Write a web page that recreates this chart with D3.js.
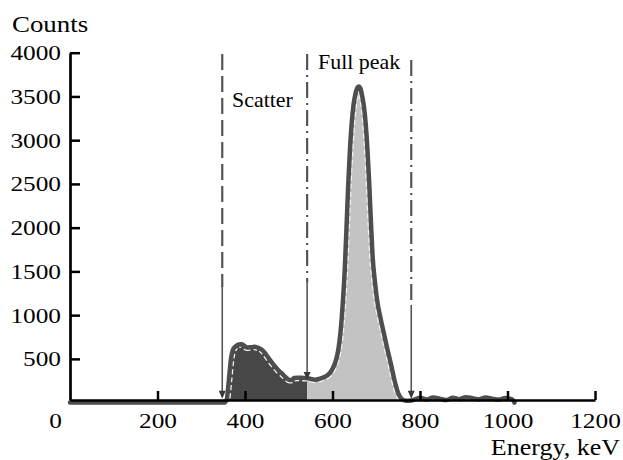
<!doctype html>
<html>
<head>
<meta charset="utf-8">
<title>Energy spectrum</title>
<script src="https://cdn.jsdelivr.net/npm/d3@7"></script>
<style>
  html, body { margin:0; background:#fff; }
  svg { display:block; font-family:'Liberation Serif','Times New Roman',serif; }
</style>
</head>
<body>
<svg id="chart" width="623" height="460"></svg>
<script>
  // spectrum (keV, counts)
  var energy = [0, 352, 358, 363, 368, 373, 379, 386, 392, 398, 405, 413, 421, 429, 437, 445,
    453, 462, 470, 478, 486, 494, 502, 508, 512, 520, 530, 543, 552, 560, 570, 580, 588, 595,
    601, 607, 612, 616, 620, 624, 628, 632, 636, 640, 644, 648, 652, 656, 660, 664, 668, 672,
    676, 680, 684, 688, 692, 697, 702, 710, 718, 726, 734, 742, 750, 756, 762, 770, 780,
    790, 800, 815, 830, 845, 860, 875, 890, 905, 920, 935, 950, 965, 980, 995, 1010, 1016]
  var counts = [0, 0, 30, 250, 500, 610, 645, 665, 668, 650, 630, 632, 638, 630, 610, 570,
    515, 455, 405, 360, 325, 285, 258, 262, 282, 284, 283, 280, 268, 262, 272, 290, 310, 345,
    395, 470, 570, 700, 900, 1174, 1520, 2000, 2500, 2900, 3200, 3400, 3520, 3590, 3615, 3590, 3500, 3380,
    3180, 2880, 2500, 2050, 1650, 1380, 1170, 960, 780, 600, 430, 250, 110, 55, 30, 22, 25,
    40, 55, 35, 60, 45, 30, 55, 40, 62, 50, 38, 58, 45, 35, 52, 40, 0]

  var xTicks = [200, 400, 600, 800, 1000, 1200]
  var yTicks = [500, 1000, 1500, 2000, 2500, 3000, 3500, 4000]

  // windows: scatter and full peak
  var windowEdges = [[348, 542], [542, 780]]
  var markerEnergy = [348, 542, 780]
  var markerTop = [3986, 3986, 3917]
  var markerSolid = [1323, 1369, 1117]
  var markerTip = [43, 260, 43]

  var svg = d3.select('#chart')
  var x = d3.scaleLinear().domain([0, 1200]).range([70, 595])
  var y = d3.scaleLinear().domain([30, 4000]).range([400, 52.7])

  var pts = energy.map(function(e, i){ return [e, counts[i]] })

  var line = d3.line()
    .x(function(d){ return x(d[0]) })
    .y(function(d){ return y(d[1]) })
    .curve(d3.curveMonotoneX)
  var area = d3.area()
    .x(function(d){ return x(d[0]) })
    .y0(y(30))
    .y1(function(d){ return y(d[1]) })
    .curve(d3.curveMonotoneX)

  var defs = svg.append('defs')
  windowEdges.forEach(function(w, i){
    defs.append('clipPath').attr('id', 'win' + i)
      .append('rect')
      .attr('x', x(w[0])).attr('y', 0)
      .attr('width', x(w[1]) - x(w[0])).attr('height', 460)
  })
  defs.append('clipPath').attr('id', 'winAll')
    .append('rect')
    .attr('x', x(windowEdges[0][0])).attr('y', 0)
    .attr('width', x(windowEdges[1][1]) - x(windowEdges[0][0])).attr('height', 460)
  defs.append('clipPath').attr('id', 'under')
    .append('path').attr('d', area(pts))

  var fills = ['#474747', '#c3c3c3']
  windowEdges.forEach(function(w, i){
    svg.append('path')
      .attr('d', area(pts))
      .attr('clip-path', 'url(#win' + i + ')')
      .attr('fill', fills[i])
  })

  // thin white dashed rim just inside the outline
  svg.append('g').attr('clip-path', 'url(#winAll)')
    .append('g').attr('clip-path', 'url(#under)')
    .append('path')
    .attr('d', line(pts))
    .attr('fill', 'none')
    .attr('stroke', '#f4f4f4')
    .attr('stroke-width', 7)
    .attr('stroke-dasharray', '5,3')

  svg.append('path')
    .attr('d', line(pts))
    .attr('fill', 'none')
    .attr('stroke', '#4e4e4e')
    .attr('stroke-width', 4.5)
    .attr('stroke-linejoin', 'round')
    .attr('stroke-linecap', 'round')

  // window markers
  var dashes = ['16,6', '16,5,2,5', '16,5,2,5']
  markerEnergy.forEach(function(e, i){
    var mx = x(e)
    svg.append('line')
      .attr('x1', mx).attr('x2', mx)
      .attr('y1', y(markerTop[i])).attr('y2', y(markerSolid[i]))
      .attr('stroke', '#555').attr('stroke-width', 2.2)
      .attr('stroke-dasharray', dashes[i])
    var tip = y(markerTip[i])
    svg.append('line')
      .attr('x1', mx).attr('x2', mx)
      .attr('y1', y(markerSolid[i])).attr('y2', tip - 6)
      .attr('stroke', '#555').attr('stroke-width', 1.6)
    svg.append('path')
      .attr('d', 'M' + (mx - 3.5) + ',' + (tip - 8) + 'L' + (mx + 3.5) + ',' + (tip - 8) + 'L' + mx + ',' + tip + 'Z')
      .attr('fill', '#3a3a3a')
  })

  // axes
  var sx = 1.15
  var fmt = d3.format('d')
  var yAxis = svg.append('g')
    .attr('transform', 'translate(' + x(0) + ',0)')
    .call(d3.axisLeft(y).tickValues(yTicks).tickFormat(fmt).tickSize(-10).tickSizeOuter(0).tickPadding(9))
  var xAxis = svg.append('g')
    .attr('transform', 'translate(0,' + y(30) + ')')
    .call(d3.axisBottom(x).tickValues(xTicks).tickFormat(fmt).tickSize(-9).tickSizeOuter(0))

  ;[yAxis, xAxis].forEach(function(a){
    a.select('.domain').attr('stroke', '#000').attr('stroke-width', 2.7)
    a.selectAll('.tick line').attr('stroke', '#000').attr('stroke-width', 2.5)
    a.selectAll('text')
      .attr('fill', '#000')
      .style('font-size', '22px')
      .style('font-family', "'Liberation Serif', serif")
  })
  yAxis.selectAll('text')
    .attr('x', -9 / sx)
    .attr('transform', 'scale(' + sx + ',1)')
  xAxis.selectAll('text')
    .attr('y', 28).attr('dy', 0)
    .attr('transform', 'scale(' + sx + ',1)')

  function label(txt, px, py, size, scale, anchor){
    svg.append('g')
      .attr('transform', 'translate(' + px + ',' + py + ') scale(' + scale + ',1)')
      .append('text')
      .attr('text-anchor', anchor || 'start')
      .style('font-size', size + 'px')
      .text(txt)
  }
  label('0', 62, 428, 22, sx, 'end')
  label('Counts', 12, 32, 24, 1.12)
  label('Energy, keV', 620, 455, 23, 1.13, 'end')
  label('Scatter', 232, 107, 21.5, 1.02)
  label('Full peak', 318, 69, 21.5, 1.02)
</script>
</body>
</html>
